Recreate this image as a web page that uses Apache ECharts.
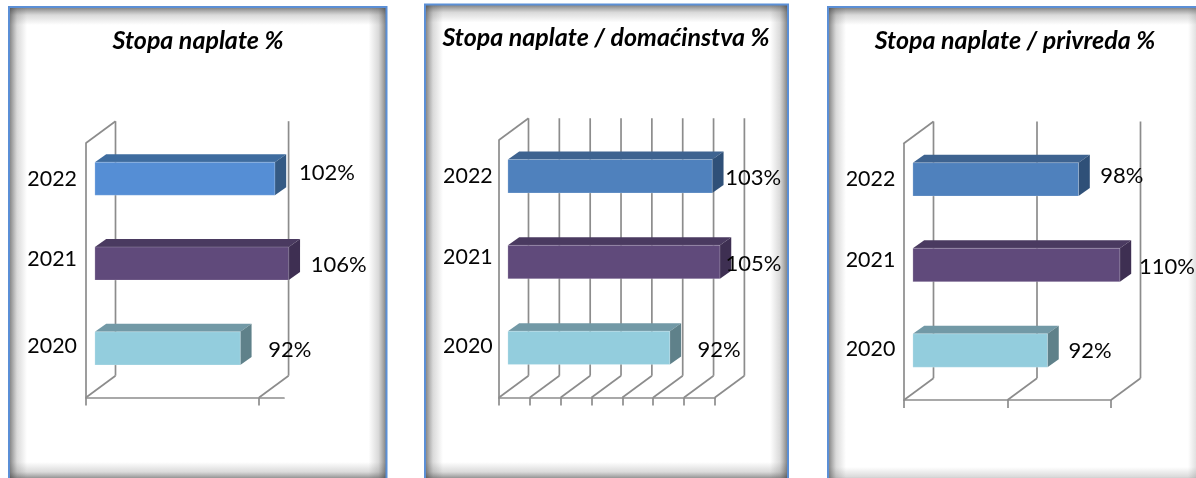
<!DOCTYPE html>
<html>
<head>
<meta charset="utf-8">
<style>html,body{margin:0;padding:0;background:#fff}#c{width:1196px;height:478px}</style>
<script src="https://cdn.jsdelivr.net/npm/echarts@6/dist/echarts.min.js"></script>
</head>
<body>
<div id="c"></div>
<script>
// --- data ---
const categories = ['2020', '2021', '2022'];
const naplateValues = [92, 106, 102];
const naplateLabels = ['92%', '106%', '102%'];
const naplateTicks = [50, 100];
const domacinstvaValues = [92, 105, 103];
const domacinstvaLabels = ['92%', '105%', '103%'];
const domacinstvaTicks = [50, 58, 66, 74, 82, 90, 98, 106];
const privredaValues = [89, 110, 98];
const privredaLabels = ['92%', '110%', '98%'];
const privredaTicks = [50, 80, 110];
const titles = ['Stopa naplate %', 'Stopa naplate / domaćinstva %', 'Stopa naplate / privreda %'];

// --- styling / layout ---
const FONT = 'Lato';
const GREY = '#8c8c8c';
const LINE_W = 1.7;
const TEXT = '#050505';
const FS = 22;
const FS_AXIS = 21.4;
const DEPTH = {x: 29.5, y: 21.8};          // depth of the 3D box
const BAR = {inX: 8.9, inY: 6.7, dx: 11.3, dy: 8, ratio: 0.39};
const BLUE_P1 = {front: '#558ed5', top: '#3e6c9f', side: '#345a84'};
const BLUE = {front: '#4f81bd', top: '#3e6390', side: '#2f5078'};
const PURPLE = {front: '#604a7b', top: '#4a3a60', side: '#3e2f52'};
const TEAL = {front: '#93cddd', top: '#7299a6', side: '#5f818a'};

const panels = [
  {title: titles[0], tx: 198, ty: 41, values: naplateValues, labels: naplateLabels, ticks: naplateTicks,
   left: 86, top: 143, width: 198, height: 254.5, max: 107.2, margin: 9,
   colors: [TEAL, PURPLE, BLUE_P1],
   nudge: [[28, 1.5], [22, 1], [24, -5.5]]},
  {title: titles[1], tx: 606, ty: 38, values: domacinstvaValues, labels: domacinstvaLabels, ticks: domacinstvaTicks,
   left: 499, top: 140, width: 215.9, height: 257.5, max: 106, margin: 6.3,
   colors: [TEAL, PURPLE, BLUE],
   nudge: [[27.7, 1.8], [5.5, 2.0], [13, 1.8]]},
  {title: titles[2], tx: 1015, ty: 41, values: privredaValues, labels: privredaLabels, ticks: privredaTicks,
   left: 904, top: 143.3, width: 207, height: 256.7, max: 110, margin: 8.7,
   colors: [TEAL, PURPLE, BLUE],
   nudge: [[21, 0.8], [19, 1.8], [21.7, -3.4]]}
];

const frames = [
  {x: 9, y: 7, w: 377.5, h: 473},
  {x: 425, y: 4.5, w: 363, h: 475.5},
  {x: 828, y: 7, w: 378, h: 478}
];

function strip(x, y, w, h, x0, y0, x1, y1) {
  const a = 0.68;
  return {type: 'rect', silent: true, z: -5, shape: {x, y, width: w, height: h},
    style: {fill: {type: 'linear', x: x0, y: y0, x2: x1, y2: y1, colorStops: [
      {offset: 0, color: 'rgba(60,60,60,' + a + ')'},
      {offset: 0.45, color: 'rgba(90,90,90,' + (a * 0.33) + ')'},
      {offset: 1, color: 'rgba(90,90,90,0)'}]}}};
}
const graphics = [];
frames.forEach(f => {
  const s = 18;
  graphics.push(strip(f.x, f.y, f.w, s, 0, 0, 0, 1));
  graphics.push(strip(f.x, f.y + f.h - s, f.w, s, 0, 1, 0, 0));
  graphics.push(strip(f.x, f.y, s, f.h, 0, 0, 1, 0));
  graphics.push(strip(f.x + f.w - s, f.y, s, f.h, 1, 0, 0, 0));
  graphics.push({type: 'rect', silent: true, z: -4, shape: {x: f.x, y: f.y, width: f.w, height: f.h},
    style: {fill: 'none', stroke: '#5b8fd6', lineWidth: 2}});
});

function wallItem(params, api) {
  const cs = params.coordSys;
  const x = api.coord([api.value(0), 0])[0];
  const top = cs.y, bottom = cs.y + cs.height;
  const st = {stroke: GREY, lineWidth: LINE_W, fill: 'none'};
  const children = [
    {type: 'line', shape: {x1: x + DEPTH.x, y1: top - DEPTH.y, x2: x + DEPTH.x, y2: bottom - DEPTH.y}, style: st},
    {type: 'line', shape: {x1: x, y1: bottom, x2: x + DEPTH.x, y2: bottom - DEPTH.y}, style: st}
  ];
  if (params.dataIndex === 0) {
    children.push({type: 'line', shape: {x1: x, y1: top, x2: x + DEPTH.x, y2: top - DEPTH.y}, style: st});
  }
  return {type: 'group', children};
}

function barItem(panel) {
  return function (params, api) {
    const i = params.dataIndex;
    const min = api.coord([50, api.value(1)]);
    const end = api.coord([api.value(0), api.value(1)]);
    const h = api.size([0, 1])[1] * BAR.ratio;
    const c = panel.colors[i];
    const x0 = min[0] + BAR.inX, x1 = end[0] + BAR.inX;
    const yc = end[1] - BAR.inY;
    const y0 = yc - h / 2, y1 = yc + h / 2;
    const n = panel.nudge[i];
    return {type: 'group', children: [
      {type: 'polygon', shape: {points: [[x0, y0], [x1, y0], [x1 + BAR.dx, y0 - BAR.dy], [x0 + BAR.dx, y0 - BAR.dy]]}, style: {fill: c.top}},
      {type: 'polygon', shape: {points: [[x1, y0], [x1 + BAR.dx, y0 - BAR.dy], [x1 + BAR.dx, y1 - BAR.dy], [x1, y1]]}, style: {fill: c.side}},
      {type: 'rect', shape: {x: x0, y: y0, width: x1 - x0, height: h}, style: {fill: c.front, stroke: 'rgba(255,255,255,0.25)', lineWidth: 0.8}},
      {type: 'text', z2: 10, style: {x: x1 + n[0], y: yc + n[1], text: panel.labels[i], fill: TEXT,
        font: FS + 'px ' + FONT, align: 'left', verticalAlign: 'middle'}}
    ]};
  };
}

const option = {
  animation: false,
  backgroundColor: '#fff',
  graphic: {elements: graphics},
  title: panels.map(p => ({
    text: p.title, left: p.tx, top: p.ty, textAlign: 'center', textVerticalAlign: 'middle', padding: 0,
    textStyle: {fontFamily: FONT, fontSize: 25, fontWeight: 'bold', fontStyle: 'italic', color: '#000'}
  })),
  grid: panels.map(p => ({left: p.left, top: p.top, width: p.width, height: p.height, containLabel: false})),
  xAxis: panels.map((p, i) => ({
    type: 'value', gridIndex: i, min: 50, max: p.max, interval: p.ticks[1] - p.ticks[0],
    axisLabel: {show: false}, splitLine: {show: false},
    axisLine: {show: true, onZero: false, lineStyle: {color: GREY, width: LINE_W}},
    axisTick: {show: true, length: 8, customValues: p.ticks, lineStyle: {color: GREY, width: LINE_W}}
  })),
  yAxis: panels.map((p, i) => ({
    type: 'category', gridIndex: i, data: categories,
    axisTick: {show: false}, splitLine: {show: false},
    axisLine: {show: true, onZero: false, lineStyle: {color: GREY, width: LINE_W}},
    axisLabel: {
      margin: p.margin, color: TEXT, fontFamily: FONT, fontSize: FS_AXIS, interval: 0,
      formatter: v => '{y' + v + '|' + v + '}',
      rich: {
        y2020: {fontFamily: FONT, fontSize: FS_AXIS, color: TEXT, padding: [0, 0, 17, 0]},
        y2021: {fontFamily: FONT, fontSize: FS_AXIS, color: TEXT, padding: [0, 0, 23, 0]},
        y2022: {fontFamily: FONT, fontSize: FS_AXIS, color: TEXT, padding: [0, 0, 13, 0]}
      }
    }
  })),
  tooltip: {show: false},
  series: panels.flatMap((p, i) => ([
    {type: 'custom', name: 'walls' + i, xAxisIndex: i, yAxisIndex: i, z: 1, silent: true,
     encode: {x: 0, y: 1}, renderItem: wallItem, data: p.ticks.map(t => [t, 0])},
    {type: 'custom', name: p.title, xAxisIndex: i, yAxisIndex: i, z: 3, silent: true,
     encode: {x: 0, y: 1}, renderItem: barItem(p), data: p.values.map((v, k) => [v, k])}
  ]))
};
const chart = echarts.init(document.getElementById('c'), null, {renderer: 'canvas', width: 1196, height: 478});
chart.setOption(option);
</script>
</body>
</html>
